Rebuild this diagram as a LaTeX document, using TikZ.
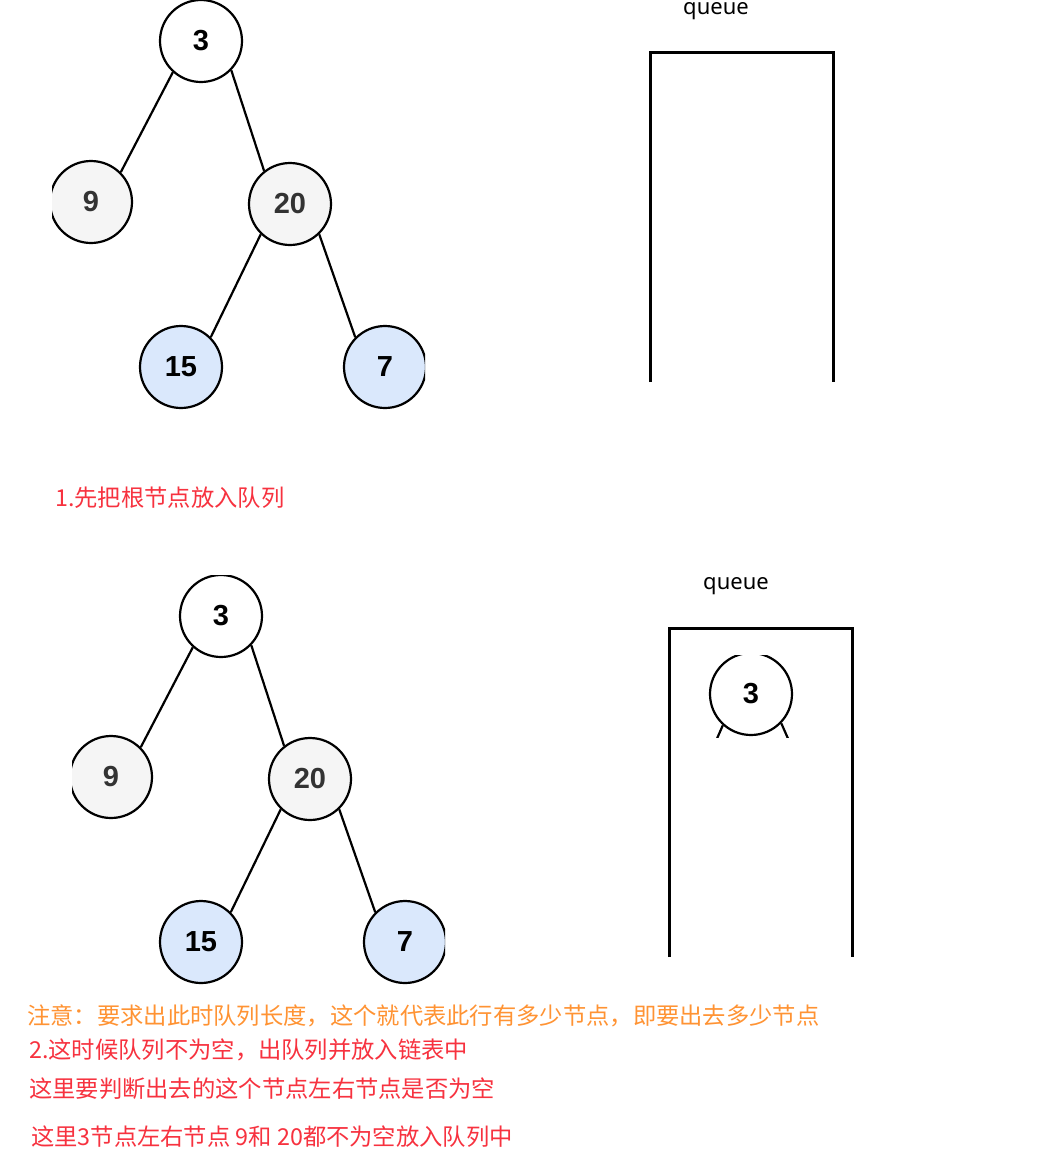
\documentclass[tikz,border=0pt]{standalone}
\usepackage{fontspec}
\setmainfont{Noto Sans}
\newfontfamily\cjk{Noto Sans CJK SC}
\newfontfamily\numfont{Liberation Sans}
\usetikzlibrary{positioning}
\definecolor{nodegray}{HTML}{F5F5F5}
\definecolor{nodeblue}{HTML}{DAE8FC}
\definecolor{numgray}{HTML}{333333}
\definecolor{notered}{HTML}{F7323F}
\definecolor{noteorange}{HTML}{FF9333}
\tikzset{
  treenode/.style={circle, draw=black, line width=2.2pt, minimum size=82pt, inner sep=0pt, font=\numfont\bfseries\fontsize{29}{29}\selectfont},
  graynode/.style={treenode, fill=nodegray, text=numgray},
  bluenode/.style={treenode, fill=nodeblue},
  treeedge/.style={black, line width=2.2pt},
  queuewall/.style={black, line width=3pt},
  queuelabel/.style={font=\fontsize{22}{22}\selectfont, inner sep=0pt},
  rednote/.style={anchor=west, text=notered, font=\cjk\fontsize{23.3}{23.3}\selectfont, inner sep=0pt},
  orangenote/.style={rednote, text=noteorange}
}
\begin{document}
\begin{tikzpicture}[x=1pt, y=-1pt]
  \useasboundingbox (0,0) rectangle (1045,1149);
  \fill[white] (0,0) rectangle (1045,1149);
  % the two copies of the tree
  \foreach \t/\dx/\dy in {a/0/0, b/20/575}{
    \begin{scope}[shift={(\dx,\dy)}]
      \clip (52,0) rectangle (425,410);
      \node[treenode, fill=white] (\t3) at (201,41) {3};
      \node[graynode] (\t9) at (91,202) {9};
      \node[graynode] (\t20) at (290,204) {20};
      \node[bluenode] (\t15) at (181,367) {15};
      \node[bluenode] (\t7) at (385,367) {7};
      \draw[treeedge] (\t3.228) -- (\t9.45);
      \draw[treeedge] (\t3.316) -- (\t20.128);
      \draw[treeedge] (\t20.226) -- (\t15.45);
      \draw[treeedge] (\t20.314) -- (\t7.135);
    \end{scope}
  }
  % empty queue
  \node[queuelabel, anchor=base] (qlabela) at (716,14) {queue};
  \draw[queuewall] (650,382) -- (650,52) -- (833,52) -- (833,382);
  \node[rednote] (step1) at (55,498) {1.先把根节点放入队列};
  % queue holding the root
  \node[queuelabel, anchor=base] (qlabelb) at (736,589) {queue};
  \draw[queuewall] (669,957) -- (669,628) -- (852,628) -- (852,957);
  \begin{scope}
    \clip (705,655) rectangle (797,737);
    \node[treenode, fill=white] (q3) at (751,694) {3};
    \coordinate (qleft) at (690,800);
    \coordinate (qright) at (815,800);
    \draw[treeedge] (q3.228) -- (qleft);
    \draw[treeedge] (q3.316) -- (qright);
  \end{scope}
  \node[orangenote] (notice) at (27,1016) {注意：要求出此时队列长度，这个就代表此行有多少节点，即要出去多少节点};
  \node[rednote] (step2) at (29,1050) {2.这时候队列不为空，出队列并放入链表中};
  \node[rednote] (check) at (29,1089) {这里要判断出去的这个节点左右节点是否为空};
  \node[rednote] (result) at (31,1137) {这里3节点左右节点 9和 20都不为空放入队列中};
\end{tikzpicture}
\end{document}
